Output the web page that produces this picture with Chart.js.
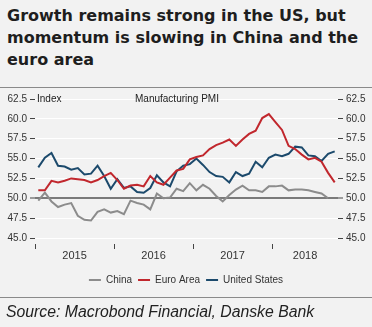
<!DOCTYPE html>
<html>
<head>
<meta charset="utf-8">
<script src="https://cdn.jsdelivr.net/npm/chart.js@4/dist/chart.umd.min.js"></script>
<style>
  html, body { margin: 0; padding: 0; }
  body {
    width: 372px;
    height: 327px;
    background: #f2f2f2;
    position: relative;
    overflow: hidden;
    font-family: "Liberation Sans", Arial, sans-serif;
  }
  #title {
    position: absolute;
    left: 7px;
    top: 5px;
    width: 358px;
    font-family: "DejaVu Sans", sans-serif;
    font-size: 16px;
    font-weight: bold;
    line-height: 22px;
    color: #1e1e1e;
  }
  .rule {
    position: absolute;
    left: 0;
    width: 372px;
    height: 1px;
    background: #8a8a8a;
  }
  #chartBox {
    position: absolute;
    left: 0;
    top: 88px;
    width: 372px;
    height: 210px;
  }
  .inner {
    position: absolute;
    font-size: 10px;
    color: #222;
    line-height: 12px;
  }
  #source {
    position: absolute;
    left: 6px;
    top: 303px;
    font-size: 15.8px;
    font-style: italic;
    color: #222;
  }
</style>
</head>
<body>
<div id="title">Growth remains strong in the US, but momentum is slowing in China and the euro area</div>
<div class="rule" style="top:87px"></div>
<div id="chartBox"><canvas id="pmiChart"></canvas></div>
<div class="inner" style="left:37px; top:93px">Index</div>
<div class="inner" style="left:135px; top:93px">Manufacturing PMI</div>
<div class="rule" style="top:297px"></div>
<div id="source">Source: Macrobond Financial, Danske Bank</div>

<script>
const months = [
  "2015-01", "2015-02", "2015-03", "2015-04", "2015-05", "2015-06",
  "2015-07", "2015-08", "2015-09", "2015-10", "2015-11", "2015-12",
  "2016-01", "2016-02", "2016-03", "2016-04", "2016-05", "2016-06",
  "2016-07", "2016-08", "2016-09", "2016-10", "2016-11", "2016-12",
  "2017-01", "2017-02", "2017-03", "2017-04", "2017-05", "2017-06",
  "2017-07", "2017-08", "2017-09", "2017-10", "2017-11", "2017-12",
  "2018-01", "2018-02", "2018-03", "2018-04", "2018-05", "2018-06",
  "2018-07", "2018-08", "2018-09", "2018-10",
];

const china = [
  49.7, 50.7, 49.6, 48.9, 49.2, 49.4, 47.8, 47.3, 47.2, 48.3, 48.6, 48.2,
  48.4, 48.0, 49.7, 49.4, 49.2, 48.6, 50.6, 50.0, 50.1, 51.2, 50.9, 51.9,
  51.0, 51.7, 51.2, 50.3, 49.6, 50.4, 51.1, 51.6, 51.0, 51.0, 50.8, 51.5,
  51.5, 51.6, 51.0, 51.1, 51.1, 51.0, 50.8, 50.6, 50.0, null,
];

const euroArea = [
  51.0, 51.0, 52.2, 52.0, 52.2, 52.5, 52.4, 52.3, 52.0, 52.3, 52.8, 53.2,
  52.3, 51.2, 51.6, 51.7, 51.5, 52.8, 52.0, 51.7, 52.6, 53.5, 53.7, 54.9,
  55.2, 55.4, 56.2, 56.7, 57.0, 57.4, 56.6, 57.4, 58.1, 58.5, 60.1, 60.6,
  59.6, 58.6, 56.6, 56.2, 55.5, 54.9, 55.1, 54.6, 53.2, 52.0,
];

const unitedStates = [
  53.9, 55.1, 55.7, 54.1, 54.0, 53.6, 53.8, 53.0, 53.1, 54.1, 52.8, 51.2,
  52.4, 51.3, 51.5, 50.8, 50.7, 51.3, 52.9, 52.0, 51.5, 53.4, 54.1, 54.3,
  55.0, 54.2, 53.3, 52.8, 52.7, 52.0, 53.3, 52.8, 53.1, 54.6, 53.9, 55.1,
  55.5, 55.3, 55.6, 56.5, 56.4, 55.4, 55.3, 54.7, 55.6, 55.9,
];

const yTicks = [45, 47.5, 50, 52.5, 55, 57.5, 60, 62.5];

const colors = {
  china: "#8c8c8c",
  euro: "#c1272d",
  us: "#1c4a6c",
};

// year label sits in the middle of that year's months
const yearLabelAt = {};
months.forEach((m, i) => {
  const y = m.slice(0, 4);
  if (!yearLabelAt[y]) yearLabelAt[y] = { first: i, last: i };
  yearLabelAt[y].last = i;
});
const labelIndex = {};
Object.keys(yearLabelAt).forEach((y) => {
  const r = yearLabelAt[y];
  labelIndex[Math.round((r.first + r.last + 1) / 2)] = y;
});

const tickFont = { family: "'Liberation Sans', Arial, sans-serif", size: 10 };

function yAxis(position, show) {
  return {
    position: position,
    min: 45,
    max: 62.5,
    afterBuildTicks: (scale) => {
      scale.ticks = yTicks.map((v) => ({ value: v }));
    },
    afterFit: (scale) => {
      scale.width = position === "left" ? 35 : 34;
    },
    border: { display: false },
    grid: {
      drawOnChartArea: show,
      color: (ctx) => (ctx.tick && ctx.tick.value === 50 ? "#7a7a7a" : "#ffffff"),
      lineWidth: (ctx) => (ctx.tick && ctx.tick.value === 50 ? 2 : 1),
      tickColor: "#444",
      tickLength: 5,
      tickWidth: 1,
    },
    ticks: {
      padding: 3,
      color: "#333",
      font: tickFont,
      callback: (v) => Number(v).toFixed(1),
    },
  };
}

new Chart(document.getElementById("pmiChart"), {
  type: "line",
  data: {
    labels: months,
    datasets: [
      {
        label: "China",
        data: china,
        borderColor: colors.china,
        backgroundColor: colors.china,
      },
      {
        label: "Euro Area",
        data: euroArea,
        borderColor: colors.euro,
        backgroundColor: colors.euro,
      },
      {
        label: "United States",
        data: unitedStates,
        borderColor: colors.us,
        backgroundColor: colors.us,
      },
    ],
  },
  options: {
    responsive: true,
    maintainAspectRatio: false,
    animation: false,
    devicePixelRatio: 1,
    layout: { padding: { top: 11, bottom: 3 } },
    elements: {
      line: { borderWidth: 2, tension: 0 },
      point: { radius: 0 },
    },
    plugins: {
      tooltip: { enabled: false },
      legend: {
        position: "bottom",
        labels: {
          boxWidth: 12,
          boxHeight: 2,
          padding: 6,
          color: "#333",
          font: tickFont,
          generateLabels: (chart) =>
            Chart.defaults.plugins.legend.labels
              .generateLabels(chart)
              .map((l) => ({ ...l, lineWidth: 0 })),
        },
      },
    },
    scales: {
      x: {
        offset: true,
        afterFit: (scale) => {
          scale.height = 31;
        },
        border: { display: false },
        grid: {
          offset: true,
          drawOnChartArea: false,
          tickLength: 11,
          tickWidth: 1,
          tickBorderDash: [0, 6, 5, 100],
          tickColor: (ctx) =>
            ctx.type === "tick" && ctx.index % 12 === 0 ? "#444" : "rgba(0,0,0,0)",
        },
        ticks: {
          autoSkip: false,
          maxRotation: 0,
          padding: 0,
          labelOffset: -3.3,
          color: "#333",
          font: { family: "'Liberation Sans', Arial, sans-serif", size: 11 },
          callback: (v, i) => labelIndex[i] || "",
        },
      },
      y: yAxis("left", true),
      y2: yAxis("right", false),
    },
  },
});
</script>
</body>
</html>
